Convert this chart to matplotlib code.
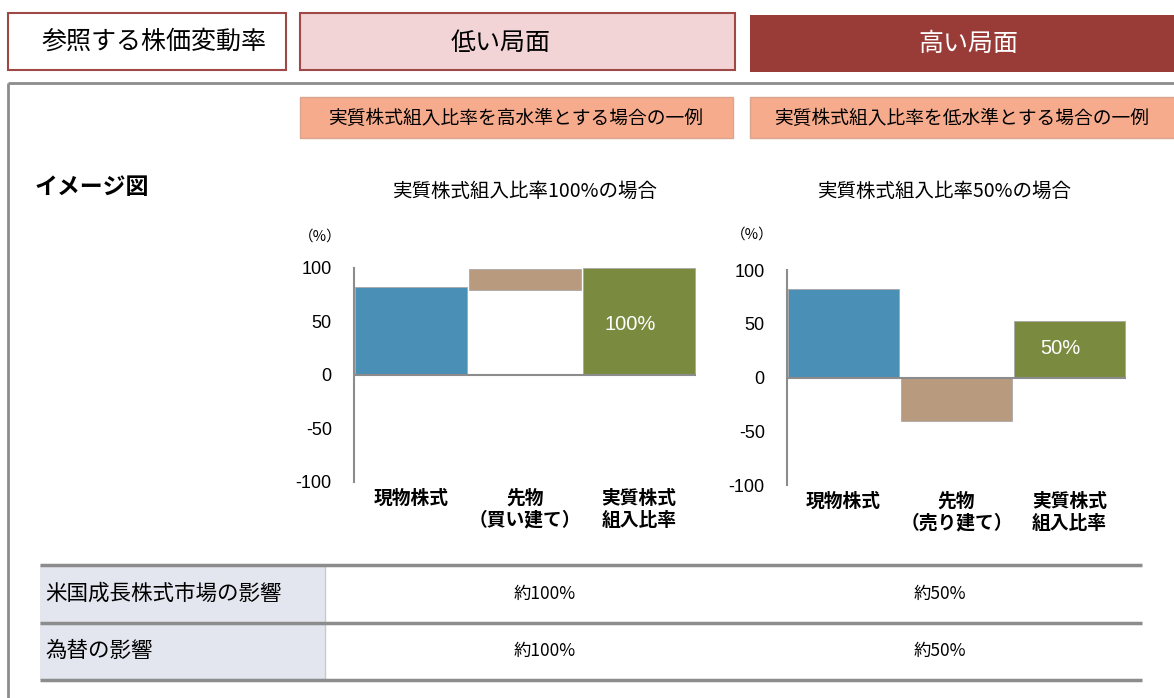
import matplotlib
matplotlib.use("Agg")
import matplotlib.pyplot as plt
from matplotlib.patches import Rectangle

plt.rcParams['font.family'] = ['Noto Sans CJK JP', 'DejaVu Sans']

# data
categories_buy = ["現物株式", "先物\n（買い建て）", "実質株式\n組入比率"]
categories_sell = ["現物株式", "先物\n（売り建て）", "実質株式\n組入比率"]
high_bottoms = [0, 79, 0]
high_tops = [82, 99, 100]
low_bottoms = [0, 0, 0]
low_tops = [82, -40, 53]
bar_colors = ["#4A8FB5", "#B89B7F", "#7A8B40"]
yticks = [-100, -50, 0, 50, 100]
table_rows = ["米国成長株式市場の影響", "為替の影響"]
table_high = ["約100%", "約100%"]
table_low = ["約50%", "約50%"]

W, H = 1174, 698
fig = plt.figure(figsize=(W / 100, H / 100), dpi=100)

# overlay axes in pixel coordinates
ax0 = fig.add_axes([0, 0, 1, 1])
ax0.set_xlim(0, W)
ax0.set_ylim(H, 0)
ax0.axis("off")

red_edge = "#A04848"
ax0.add_patch(Rectangle((8, 13), 278, 57, fc="white", ec=red_edge, lw=1.5))
ax0.add_patch(Rectangle((300, 13), 435, 57, fc="#F2D4D6", ec=red_edge, lw=1.5))
ax0.add_patch(Rectangle((750, 15), 430, 57, fc="#993B36", ec="none"))
ax0.text(154, 42, "参照する株価変動率", ha="center", va="center", fontsize=18)
ax0.text(501, 43, "低い局面", ha="center", va="center", fontsize=18)
ax0.text(968, 44, "高い局面", ha="center", va="center", fontsize=18, color="white")

# frame
ax0.plot([8, W], [83, 83], color="#8C8C8C", lw=2, solid_capstyle="butt")
ax0.plot([8, 8], [83, H], color="#8C8C8C", lw=2, solid_capstyle="butt")

salmon = "#F6AB8D"
ax0.add_patch(Rectangle((300, 97), 433, 41, fc=salmon, ec="#D9A58F", lw=1))
ax0.add_patch(Rectangle((750, 97), 430, 41, fc=salmon, ec="#D9A58F", lw=1))
ax0.text(516, 118, "実質株式組入比率を高水準とする場合の一例", ha="center", va="center", fontsize=13.5)
ax0.text(962, 118, "実質株式組入比率を低水準とする場合の一例", ha="center", va="center", fontsize=13.5)

ax0.text(35, 188, "イメージ図", ha="left", va="center", fontsize=16.5, fontweight="bold")
ax0.text(525, 191, "実質株式組入比率100%の場合", ha="center", va="center", fontsize=14)
ax0.text(945, 191, "実質株式組入比率50%の場合", ha="center", va="center", fontsize=14)
ax0.text(320, 237, "（%）", ha="center", va="center", fontsize=10.5)
ax0.text(752, 235, "（%）", ha="center", va="center", fontsize=10.5)


def bar_panel(rect, bottoms, tops, labels, value_text, value_y):
    x0, y0, x1, y1 = rect
    ax = fig.add_axes([x0 / W, 1 - y1 / H, (x1 - x0) / W, (y1 - y0) / H])
    heights = [t - b for t, b in zip(tops, bottoms)]
    ax.bar(range(3), heights, bottom=bottoms, width=0.985, color=bar_colors,
           edgecolor="#A8A8A8", lw=0.6, zorder=2)
    ax.axhline(0, color="#8C8C8C", lw=1.5, zorder=3)
    ax.set_xlim(-0.5, 2.5)
    ax.set_ylim(-100, 100)
    ax.set_yticks(yticks)
    ax.set_yticklabels([str(v) for v in yticks], family="Liberation Sans", fontsize=13)
    ax.set_xticks(range(3))
    ax.set_xticklabels(labels, fontsize=13.5, fontweight="bold", linespacing=1.2)
    ax.tick_params(axis="y", length=0, pad=16)
    ax.tick_params(axis="x", length=0, pad=5)
    for s in ["top", "right", "bottom"]:
        ax.spines[s].set_visible(False)
    ax.spines["left"].set_color("#8C8C8C")
    ax.spines["left"].set_linewidth(1.5)
    ax.text(1.92, value_y, value_text, ha="center", va="center", color="white",
            fontsize=14.5, family="Liberation Sans")
    return ax


bar_panel((354, 268, 696, 482), high_bottoms, high_tops, categories_buy, "100%", 47)
bar_panel((787, 270, 1126, 485), low_bottoms, low_tops, categories_sell, "50%", 27)

# table
ax0.add_patch(Rectangle((40, 565), 285, 115, fc="#E3E6EF", ec="none"))
ax0.plot([325, 325], [565, 680], color="#C8C8C8", lw=1)
for y in [565, 623, 680]:
    ax0.plot([40, 1142], [y, y], color="#8C8C8C", lw=2.5, solid_capstyle="butt")
for i, y in enumerate([594, 651]):
    ax0.text(45, y, table_rows[i], ha="left", va="center", fontsize=15.5)
    ax0.text(545, y, table_high[i], ha="center", va="center", fontsize=12.5)
    ax0.text(940, y, table_low[i], ha="center", va="center", fontsize=12.5)

fig.savefig("out.png", dpi=100)
